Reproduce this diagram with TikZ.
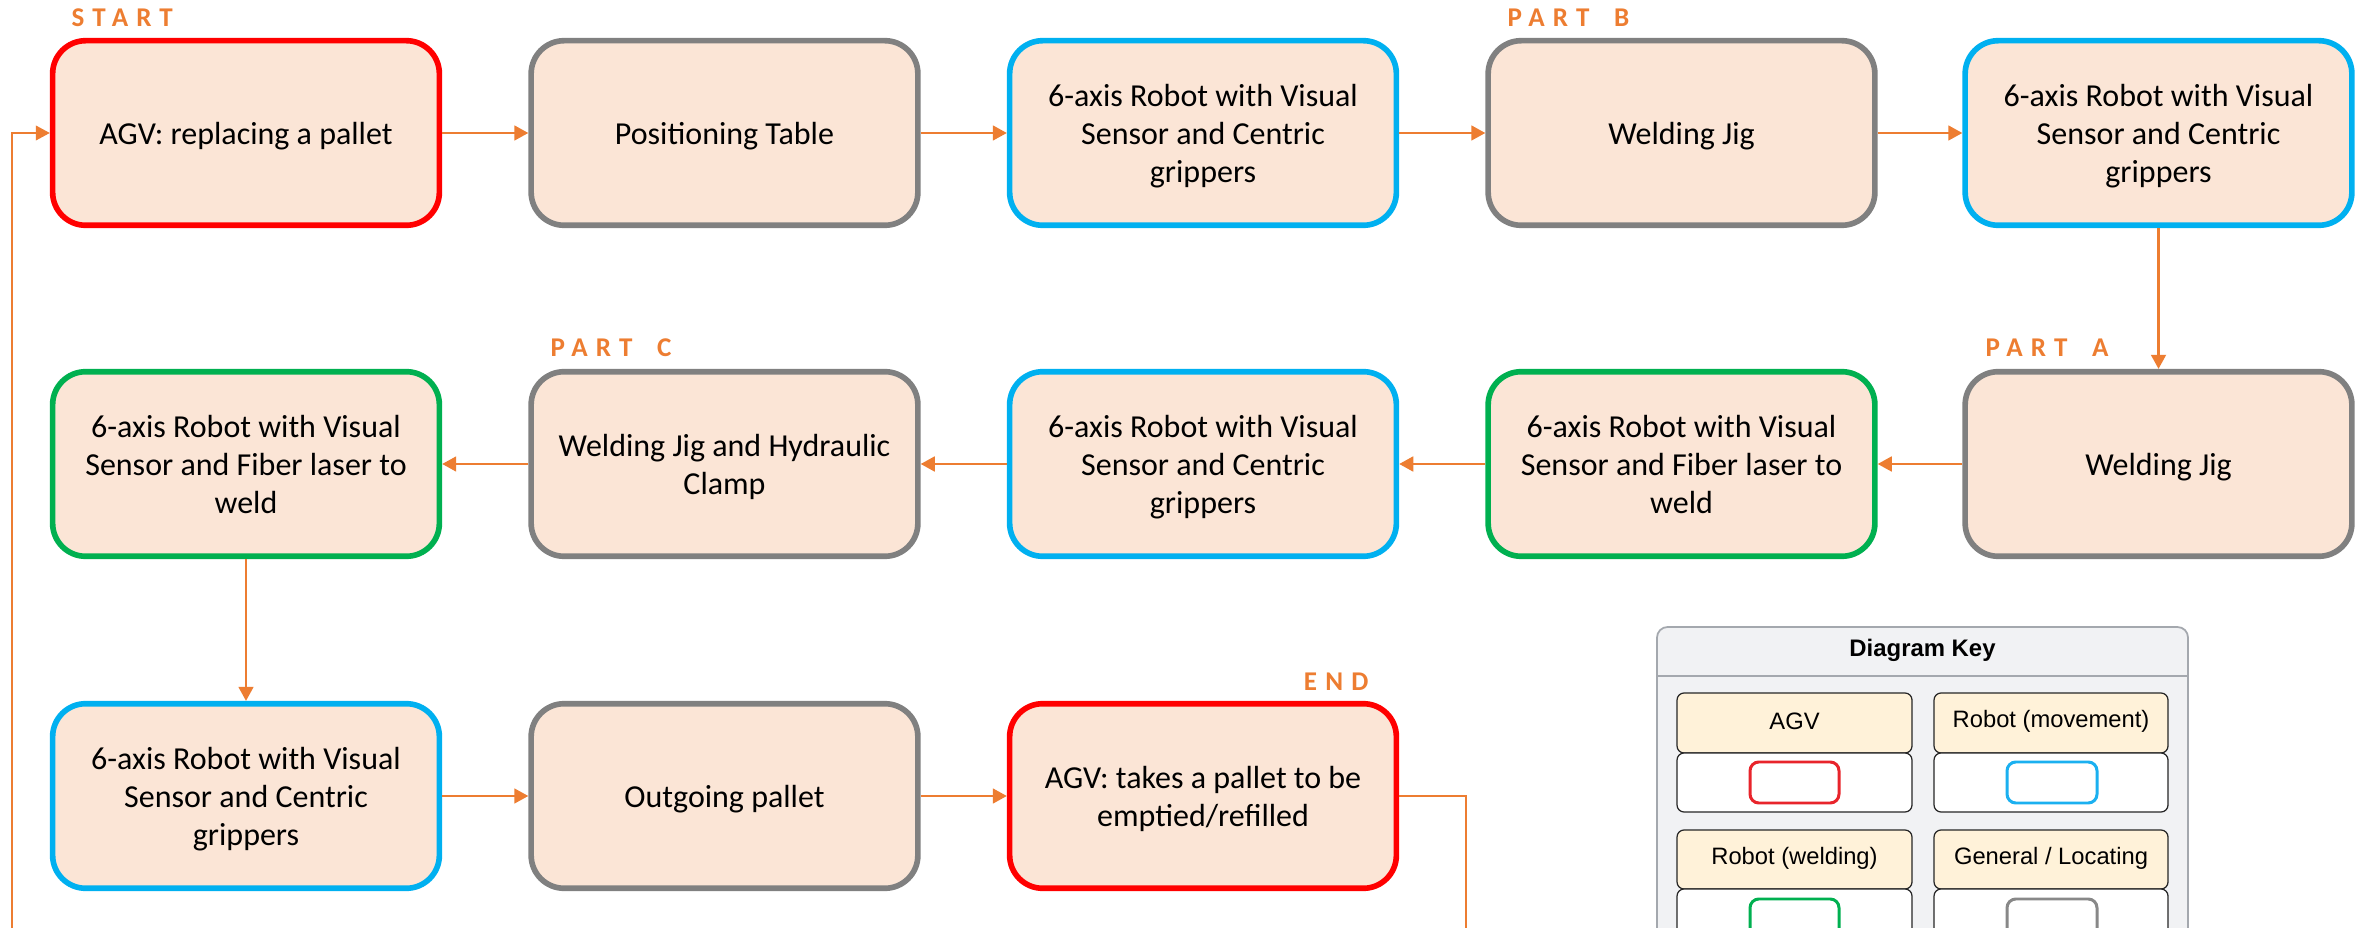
\documentclass[tikz,border=0pt]{standalone}
\usepackage{fontspec}
\setmainfont{Carlito}
\newfontfamily\keyfont{Liberation Sans}
\newfontfamily\labfont[LetterSpace=30]{Carlito}
\usetikzlibrary{arrows.meta}
\newcommand{\boxtxt}[1]{\raisebox{-1pt}[\height][\depth]{\begin{tabular}{@{}c@{}}#1\end{tabular}}}
\definecolor{boxfill}{HTML}{FBE5D6}
\definecolor{agvred}{HTML}{FF0000}
\definecolor{robblue}{HTML}{00B0F0}
\definecolor{weldgreen}{HTML}{00B050}
\definecolor{gengray}{HTML}{808080}
\definecolor{arrorange}{HTML}{ED7D31}
\definecolor{keybg}{HTML}{F1F2F4}
\definecolor{keyborder}{HTML}{A4A8AE}
\definecolor{keycream}{HTML}{FFF2D9}
\definecolor{keyred}{HTML}{E8242B}
\definecolor{keyblue}{HTML}{1BB0F0}
\definecolor{keygreen}{HTML}{00B050}
\definecolor{keygray}{HTML}{888888}
\tikzset{
  proc/.style={draw, fill=boxfill, rounded corners=0.33cm, line width=1.6pt,
    minimum width=3.865cm, minimum height=1.845cm,
    font=\fontsize{9.1}{10.8}\selectfont, inner sep=0pt},
  agvbox/.style={proc, draw=agvred},
  movbox/.style={proc, draw=robblue},
  weldbox/.style={proc, draw=weldgreen},
  genbox/.style={proc, draw=gengray},
  flow/.style={draw=arrorange, line width=0.7pt, -{Triangle[length=4pt,width=4.2pt]}},
  loopline/.style={draw=arrorange, line width=0.45pt},
  loopflow/.style={draw=arrorange, line width=0.45pt, -{Triangle[length=4pt,width=4.2pt]}},
  partlabel/.style={text=arrorange, font=\labfont\bfseries\fontsize{7.7}{9}\selectfont, inner sep=0pt},
  keytext/.style={font=\keyfont\fontsize{6.75}{8}\selectfont, inner sep=0pt},
  keycell/.style={draw=black!85, line width=0.35pt, rounded corners=2},
  keyinner/.style={line width=0.85pt, rounded corners=2.5, fill=white}
}
\begin{document}
\begin{tikzpicture}[x=0.01cm, y=-0.01cm]
\useasboundingbox (0,0) rectangle (2367,928);
\clip (0,0) rectangle (2367,928);
\fill[white] (0,0) rectangle (2367,928);

% row 1
\node[agvbox] (n1) at (246,133) {\boxtxt{AGV: replacing a pallet}};
\node[genbox] (n2) at (724.5,133) {\boxtxt{Positioning Table}};
\node[movbox] (n3) at (1203,133) {\boxtxt{6-axis Robot with Visual\\Sensor and Centric\\grippers}};
\node[genbox] (n4) at (1681.5,133) {\boxtxt{Welding Jig}};
\node[movbox] (n5) at (2158.5,133) {\boxtxt{6-axis Robot with Visual\\Sensor and Centric\\grippers}};
% row 2
\node[genbox] (n6) at (2158.5,464) {\boxtxt{Welding Jig}};
\node[weldbox] (n7) at (1681.5,464) {\boxtxt{6-axis Robot with Visual\\Sensor and Fiber laser to\\weld}};
\node[movbox] (n8) at (1203,464) {\boxtxt{6-axis Robot with Visual\\Sensor and Centric\\grippers}};
\node[genbox] (n9) at (724.5,464) {\boxtxt{Welding Jig and Hydraulic\\Clamp}};
\node[weldbox] (n10) at (246,464) {\boxtxt{6-axis Robot with Visual\\Sensor and Fiber laser to\\weld}};
% row 3
\node[movbox] (n11) at (246,796) {\boxtxt{6-axis Robot with Visual\\Sensor and Centric\\grippers}};
\node[genbox] (n12) at (724.5,796) {\boxtxt{Outgoing pallet}};
\node[agvbox] (n13) at (1203,796) {\boxtxt{AGV: takes a pallet to be\\emptied/refilled}};

% labels
\node[partlabel, anchor=base west] (lstart) at (71,27) {START};
\node[partlabel, anchor=base west] (lpartb) at (1507,27) {PART\hspace{7pt}B};
\node[partlabel, anchor=base west] (lparta) at (1985,357) {PART\hspace{7pt}A};
\node[partlabel, anchor=base west] (lpartc) at (550,357) {PART\hspace{7pt}C};
\node[partlabel, anchor=base east] (lend) at (1369,690) {END};

% connectors
\draw[flow] (n1) -- (n2);
\draw[flow] (n2) -- (n3);
\draw[flow] (n3) -- (n4);
\draw[flow] (n4) -- (n5);
\draw[flow] (n5) -- (n6);
\draw[flow] (n6) -- (n7);
\draw[flow] (n7) -- (n8);
\draw[flow] (n8) -- (n9);
\draw[flow] (n9) -- (n10);
\draw[flow] (n10) -- (n11);
\draw[flow] (n11) -- (n12);
\draw[flow] (n12) -- (n13);
\coordinate (endc) at (1466,940);
\draw[loopline] (n13.east) -| (endc);
\coordinate (startc) at (12,940);
\draw[loopflow] (startc) |- (n1.west);

% diagram key
\draw[draw=keyborder, fill=keybg, line width=0.5pt, rounded corners=3] (1657,627) rectangle (2188,990);
\draw[draw=keyborder, line width=0.5pt] (1657,676) -- (2188,676);
\node[keytext, font=\keyfont\bfseries\fontsize{6.8}{8}\selectfont] (ktitle) at (1922.5,650) {Diagram Key};

\draw[keycell, fill=keycream] (1677,693) rectangle (1912,753);
\draw[keycell, fill=white] (1677,753) rectangle (1912,812);
\node[keytext] (kagv) at (1794.5,721) {AGV};
\draw[keyinner, draw=keyred] (1750,762) rectangle (1839,803);

\draw[keycell, fill=keycream] (1934,693) rectangle (2168,753);
\draw[keycell, fill=white] (1934,753) rectangle (2168,812);
\node[keytext] (kmov) at (2051,721) {Robot (movement)};
\draw[keyinner, draw=keyblue] (2007,762) rectangle (2097,803);

\draw[keycell, fill=keycream] (1677,830) rectangle (1912,889);
\draw[keycell, fill=white] (1677,889) rectangle (1912,990);
\node[keytext] (kweld) at (1794.5,858) {Robot (welding)};
\draw[keyinner, draw=keygreen] (1750,899) rectangle (1839,960);

\draw[keycell, fill=keycream] (1934,830) rectangle (2168,889);
\draw[keycell, fill=white] (1934,889) rectangle (2168,990);
\node[keytext] (kgen) at (2051,858) {General / Locating};
\draw[keyinner, draw=keygray] (2007,899) rectangle (2097,960);
\end{tikzpicture}
\end{document}
